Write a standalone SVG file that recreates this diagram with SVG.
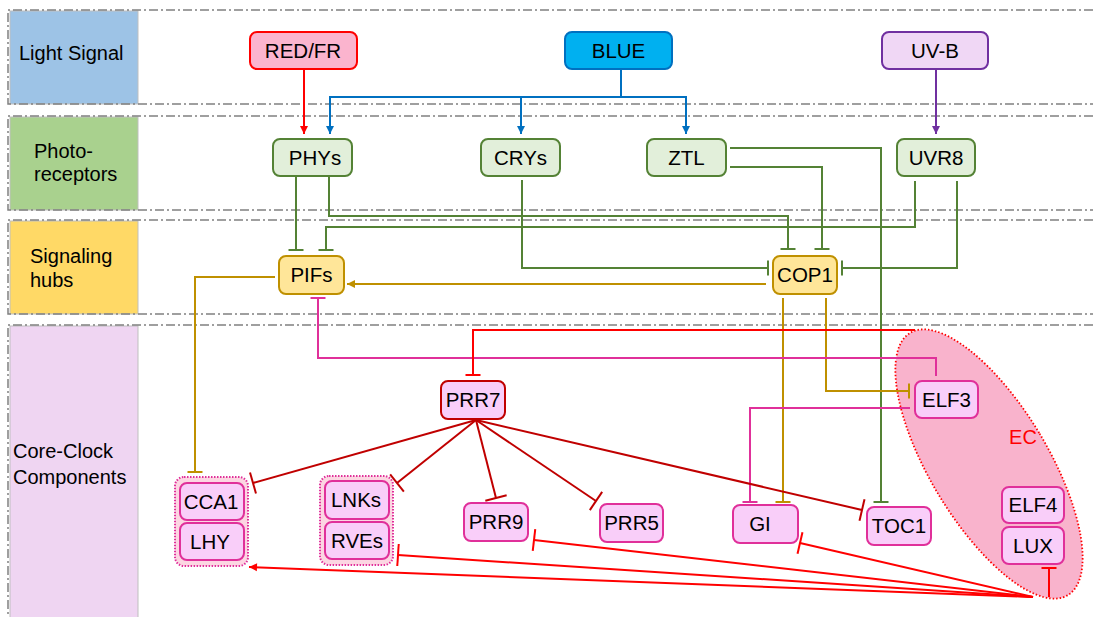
<svg xmlns="http://www.w3.org/2000/svg" width="1093" height="617" viewBox="0 0 1093 617">
<style>
text{font-family:"Liberation Sans",Arial,sans-serif;fill:#000}
.lbl{font-size:20px}
.nt{font-size:20.5px;text-anchor:middle}
.lane{fill:none;stroke:#808080;stroke-width:1.5;stroke-dasharray:9 3 2 3}
.lb{stroke:#BFBFBF;stroke-width:1}
.c{fill:none;stroke-width:2}
.green{stroke:#548235}
.gold{stroke:#BF9000}
.mag{stroke:#E0309A}
.red{stroke:#FF0000}
.dred{stroke:#C00000}
.blue{stroke:#0070C0}
.purp{stroke:#7030A0}
.pr{fill:#E2EFDA;stroke:#548235;stroke-width:2}
.hub{fill:#FFE699;stroke:#BF9000;stroke-width:2}
.ck{fill:#F9CEF9;stroke:#E0309A;stroke-width:2}
.grp{fill:#FCD6E2;stroke:#E0309A;stroke-width:2;stroke-dasharray:1.5 1.5}
</style>
<defs>
<marker id="aRed" markerUnits="userSpaceOnUse" markerWidth="10" markerHeight="10" viewBox="-9 -5 10 10" refX="0" refY="0" orient="auto"><path d="M0,0 L-8,-4 L-8,4 Z" fill="#FF0000"/></marker>
<marker id="aBlue" markerUnits="userSpaceOnUse" markerWidth="10" markerHeight="10" viewBox="-9 -5 10 10" refX="0" refY="0" orient="auto"><path d="M0,0 L-8,-4 L-8,4 Z" fill="#0070C0"/></marker>
<marker id="aPurp" markerUnits="userSpaceOnUse" markerWidth="10" markerHeight="10" viewBox="-9 -5 10 10" refX="0" refY="0" orient="auto"><path d="M0,0 L-8,-4 L-8,4 Z" fill="#7030A0"/></marker>
<marker id="aGold" markerUnits="userSpaceOnUse" markerWidth="10" markerHeight="10" viewBox="-9 -5 10 10" refX="0" refY="0" orient="auto"><path d="M0,0 L-8,-4 L-8,4 Z" fill="#BF9000"/></marker>
<marker id="tGreen" markerUnits="userSpaceOnUse" markerWidth="4" markerHeight="18" viewBox="-2 -9 4 18" refX="0" refY="0" orient="auto"><path d="M0,-7.5 V7.5" stroke="#548235" stroke-width="2"/></marker>
<marker id="tGold" markerUnits="userSpaceOnUse" markerWidth="4" markerHeight="18" viewBox="-2 -9 4 18" refX="0" refY="0" orient="auto"><path d="M0,-7.5 V7.5" stroke="#BF9000" stroke-width="2"/></marker>
<marker id="tMag" markerUnits="userSpaceOnUse" markerWidth="4" markerHeight="18" viewBox="-2 -9 4 18" refX="0" refY="0" orient="auto"><path d="M0,-7.5 V7.5" stroke="#E0309A" stroke-width="2"/></marker>
<marker id="tRed" markerUnits="userSpaceOnUse" markerWidth="4" markerHeight="18" viewBox="-2 -9 4 18" refX="0" refY="0" orient="auto"><path d="M0,-7.5 V7.5" stroke="#FF0000" stroke-width="2"/></marker>
<marker id="tRedL" markerUnits="userSpaceOnUse" markerWidth="4" markerHeight="26" viewBox="-2 -13 4 26" refX="0" refY="0" orient="auto"><path d="M0,-11 V11" stroke="#FF0000" stroke-width="2"/></marker>
<marker id="tDred" markerUnits="userSpaceOnUse" markerWidth="4" markerHeight="26" viewBox="-2 -13 4 26" refX="0" refY="0" orient="auto"><path d="M0,-11 V11" stroke="#C00000" stroke-width="2"/></marker>
</defs>
<rect width="1093" height="617" fill="#FFFFFF"/>

<g id="lanes">
<rect class="lb" x="10" y="11" width="128" height="93" fill="#9DC3E6"/>
<rect class="lb" x="10" y="117" width="128" height="93" fill="#A9D18E"/>
<rect class="lb" x="10" y="221" width="128" height="93" fill="#FFD966"/>
<rect class="lb" x="10" y="326" width="128" height="292" fill="#EFD5F2"/>
<path class="lane" d="M1093,10 H8 V104 H1093"/>
<path class="lane" d="M1093,116 H8 V210 H1093"/>
<path class="lane" d="M1093,220 H8 V314 H1093"/>
<path class="lane" d="M1093,325 H8 V617"/>
<text class="lbl" x="19" y="60">Light Signal</text>
<text class="lbl" x="34" y="158">Photo-</text>
<text class="lbl" x="34" y="181">receptors</text>
<text class="lbl" x="30" y="263">Signaling</text>
<text class="lbl" x="30" y="287">hubs</text>
<text class="lbl" x="13" y="458">Core-Clock</text>
<text class="lbl" x="13" y="484">Components</text>
</g>

<g id="EC">
<ellipse cx="989" cy="464" rx="59" ry="153" transform="rotate(-31 989 464)" fill="#F9B3CC" stroke="#FF0000" stroke-width="1.8" stroke-dasharray="1.5 2"/>
<text x="1023" y="444" style="font-size:20px;text-anchor:middle;fill:#FF0000">EC</text>
</g>

<g id="connectors">
<path class="c red" d="M304,69 V134" marker-end="url(#aRed)"/>
<path class="c blue" d="M621,69 V97"/>
<path class="c blue" d="M621,97 H330 V134" marker-end="url(#aBlue)"/>
<path class="c blue" d="M621,97 H686 V134" marker-end="url(#aBlue)"/>
<path class="c blue" d="M521,97 V134" marker-end="url(#aBlue)"/>
<path class="c purp" d="M936,69 V134" marker-end="url(#aPurp)"/>
<path class="c green" d="M296,177 V250" marker-end="url(#tGreen)"/>
<path class="c green" d="M329,177 V216 H788 V249" marker-end="url(#tGreen)"/>
<path class="c green" d="M915,181 V227 H326 V250" marker-end="url(#tGreen)"/>
<path class="c green" d="M957,181 V268 H842" marker-end="url(#tGreen)"/>
<path class="c green" d="M522,180 V268 H768" marker-end="url(#tGreen)"/>
<path class="c green" d="M730,167 H822 V249" marker-end="url(#tGreen)"/>
<path class="c green" d="M730,148 H881 V502" marker-end="url(#tGreen)"/>
<path class="c gold" d="M766,284 H347" marker-end="url(#aGold)"/>
<path class="c gold" d="M275,277 H195 V472" marker-end="url(#tGold)"/>
<path class="c gold" d="M783,298 V502" marker-end="url(#tGold)"/>
<path class="c gold" d="M826,298 V391 H909" marker-end="url(#tGold)"/>
<path class="c mag" d="M936,376 V358 H318 V298" marker-end="url(#tMag)"/>
<path class="c red" d="M915,330 H473 V375" marker-end="url(#tRed)"/>
<path class="c mag" d="M910,408 H750 V502" marker-end="url(#tMag)"/>
<path class="c dred" d="M476,420 L253,483" marker-end="url(#tDred)"/>
<path class="c dred" d="M476,420 L397,483" marker-end="url(#tDred)"/>
<path class="c dred" d="M476,420 L496,498" marker-end="url(#tDred)"/>
<path class="c dred" d="M476,420 L596,501" marker-end="url(#tDred)"/>
<path class="c dred" d="M476,420 L862,510" marker-end="url(#tDred)"/>
<path class="c red" d="M1033,597 L800,543" marker-end="url(#tRedL)"/>
<path class="c red" d="M1033,597 L534,540" marker-end="url(#tRedL)"/>
<path class="c red" d="M1033,597 L398,555" marker-end="url(#tRedL)"/>
<path class="c red" d="M1033,597 L249,567" marker-end="url(#aRed)"/>
<path class="c red" d="M1049,597 V568" marker-end="url(#tRed)"/>
</g>

<g id="REDFR"><rect x="250" y="32" width="107" height="37" rx="7" fill="#FBB4CE" stroke="#FF0000" stroke-width="2"/><text class="nt" x="303" y="58">RED/FR</text></g>
<g id="BLUE"><rect x="565" y="32" width="107" height="37" rx="7" fill="#00B0F0" stroke="#0070C0" stroke-width="2"/><text class="nt" x="618.5" y="58">BLUE</text></g>
<g id="UVB"><rect x="882" y="32" width="106" height="37" rx="7" fill="#F0D7F5" stroke="#7030A0" stroke-width="2"/><text class="nt" x="935" y="58">UV-B</text></g>

<g id="PHYs"><rect class="pr" x="273" y="139" width="79" height="37" rx="7"/><text class="nt" x="315" y="165">PHYs</text></g>
<g id="CRYs"><rect class="pr" x="481" y="139" width="79" height="37" rx="7"/><text class="nt" x="520.5" y="165">CRYs</text></g>
<g id="ZTL"><rect class="pr" x="647" y="139" width="79" height="37" rx="7"/><text class="nt" x="686.5" y="165">ZTL</text></g>
<g id="UVR8"><rect class="pr" x="897" y="139" width="78" height="37" rx="7"/><text class="nt" x="936" y="165">UVR8</text></g>

<g id="PIFs"><rect class="hub" x="279" y="256" width="65" height="38" rx="7"/><text class="nt" x="311.5" y="282">PIFs</text></g>
<g id="COP1"><rect class="hub" x="773" y="256" width="64" height="38" rx="7"/><text class="nt" x="805" y="282">COP1</text></g>

<g id="PRR7"><rect x="441" y="381" width="64" height="38" rx="7" fill="#F9CEF9" stroke="#C00000" stroke-width="2"/><text class="nt" x="473" y="407">PRR7</text></g>
<g id="CCA1LHY">
<rect class="grp" x="175" y="477" width="73" height="89" rx="9"/>
<rect class="ck" x="180" y="483" width="64" height="37" rx="7"/><text class="nt" x="211" y="509">CCA1</text>
<rect class="ck" x="180" y="523" width="64" height="37" rx="7"/><text class="nt" x="210" y="549">LHY</text>
</g>
<g id="LNKsRVEs">
<rect class="grp" x="320" y="476" width="73" height="89" rx="9"/>
<rect class="ck" x="325" y="481" width="64" height="38" rx="7"/><text class="nt" x="356" y="507">LNKs</text>
<rect class="ck" x="325" y="522" width="64" height="37" rx="7"/><text class="nt" x="357" y="548">RVEs</text>
</g>
<g id="PRR9"><rect class="ck" x="464" y="503" width="64" height="38" rx="7"/><text class="nt" x="496" y="529">PRR9</text></g>
<g id="PRR5"><rect class="ck" x="600" y="504" width="63" height="38" rx="7"/><text class="nt" x="631.5" y="530">PRR5</text></g>
<g id="GI"><rect class="ck" x="733" y="505" width="65" height="38" rx="7"/><text class="nt" x="760" y="531">GI</text></g>
<g id="TOC1"><rect class="ck" x="867" y="507" width="64" height="38" rx="7"/><text class="nt" x="899" y="533">TOC1</text></g>
<g id="ELF3"><rect class="ck" x="915" y="381" width="63" height="37" rx="7"/><text class="nt" x="946.5" y="407">ELF3</text></g>
<g id="ELF4"><rect class="ck" x="1002" y="487" width="62" height="36" rx="7"/><text class="nt" x="1033" y="512">ELF4</text></g>
<g id="LUX"><rect class="ck" x="1002" y="527" width="62" height="37" rx="7"/><text class="nt" x="1033" y="553">LUX</text></g>
</svg>
